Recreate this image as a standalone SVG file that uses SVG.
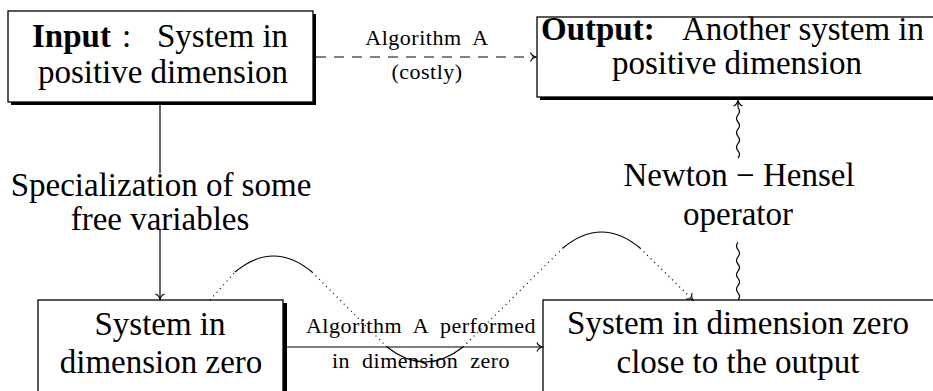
<svg xmlns="http://www.w3.org/2000/svg" width="933" height="391" viewBox="0 0 933 391">
<defs>
<style>
text{font-family:"Liberation Serif",serif;fill:#000}
.big{font-size:33px}
.small{font-size:22px;letter-spacing:0.5px;word-spacing:6px}
.box{fill:#fff;stroke:#000;stroke-width:1.3}
.shadow{fill:#000}
.ln{fill:none;stroke:#000;stroke-width:1.2}
.dot{fill:none;stroke:#000;stroke-width:1.2;stroke-dasharray:1 4}
.dash{fill:none;stroke:#000;stroke-width:1.2;stroke-dasharray:10 8}
</style>
<marker id="to" viewBox="-7 -6 9 12" refX="0" refY="0" markerWidth="9" markerHeight="12" markerUnits="userSpaceOnUse" orient="auto">
<path d="M-5.5,-4.5 C-4.5,-1.5 -1.5,-0.4 0,0 C-1.5,0.4 -4.5,1.5 -5.5,4.5" fill="none" stroke="#000" stroke-width="1.1"/>
</marker>
</defs>

<g id="input">
<rect class="shadow" x="11" y="14" width="305" height="91"/>
<rect class="box" x="8" y="11" width="305" height="91"/>
<text class="big" x="32" y="47"><tspan font-weight="bold">Input</tspan><tspan x="122">:</tspan><tspan x="157">System in</tspan></text>
<text class="big" x="163" y="83" text-anchor="middle">positive dimension</text>
</g>

<g id="output">
<rect class="shadow" x="540" y="20" width="400" height="80"/>
<rect class="box" x="537" y="17" width="400" height="80"/>
<text class="big" x="541" y="40"><tspan font-weight="bold">Output:</tspan><tspan x="682">Another system in</tspan></text>
<text class="big" x="737" y="74" text-anchor="middle">positive dimension</text>
</g>

<g id="zero">
<rect class="shadow" x="41" y="303" width="246" height="100"/>
<rect class="box" x="38" y="300" width="245" height="100"/>
<text class="big" x="160" y="335" text-anchor="middle">System in</text>
<text class="big" x="161" y="373" text-anchor="middle">dimension zero</text>
</g>

<g id="close">
<rect class="box" x="543" y="300" width="400" height="100"/>
<text class="big" x="738" y="334" text-anchor="middle">System in dimension zero</text>
<text class="big" x="738" y="373" text-anchor="middle">close to the output</text>
</g>

<g id="connectors">
<line class="dash" x1="316" y1="57" x2="536" y2="57" marker-end="url(#to)"/>
<text class="small" x="427" y="45" text-anchor="middle">Algorithm A</text>
<text class="small" x="427" y="79" text-anchor="middle">(costly)</text>

<line class="ln" x1="160" y1="105" x2="160" y2="173"/>
<line class="ln" x1="160" y1="230" x2="160" y2="299.5" marker-end="url(#to)"/>
<text class="big" x="161" y="196" text-anchor="middle">Specialization of some</text>
<text class="big" x="160" y="230" text-anchor="middle">free variables</text>

<line class="ln" x1="287" y1="347" x2="542.5" y2="347" marker-end="url(#to)"/>
<text class="small" x="421" y="333" text-anchor="middle">Algorithm A performed</text>
<text class="small" x="421" y="368" text-anchor="middle">in dimension zero</text>

<path class="ln" d="M738,300 q3,-3.6 0,-7.2 t0,-7.2 t0,-7.2 t0,-7.2 t0,-7.2 t0,-7.2 t0,-7.2 t0,-7.2"/>
<path class="ln" d="M738,158 q3,-3.6 0,-7.2 t0,-7.2 t0,-7.2 t0,-7.2 t0,-7.2 t0,-7.2 t0,-7.2"/>
<line class="ln" x1="738" y1="107.6" x2="738" y2="100.5" marker-end="url(#to)"/>
<text class="big" x="739" y="186" text-anchor="middle">Newton − Hensel</text>
<text class="big" x="738" y="225" text-anchor="middle">operator</text>

<path class="dot" d="M210,300 L235,272"/>
<path class="ln" d="M235,272 Q273.5,240 312,272"/>
<path class="dot" d="M312,272 L387,347"/>
<path class="ln" d="M387,347 Q425,377 463,347"/>
<path class="dot" d="M463,347 L563,248"/>
<path class="ln" d="M563,248 Q601.5,216 640,248"/>
<path class="dot" d="M640,248 L693,300" marker-end="url(#to)"/>
</g>
</svg>
